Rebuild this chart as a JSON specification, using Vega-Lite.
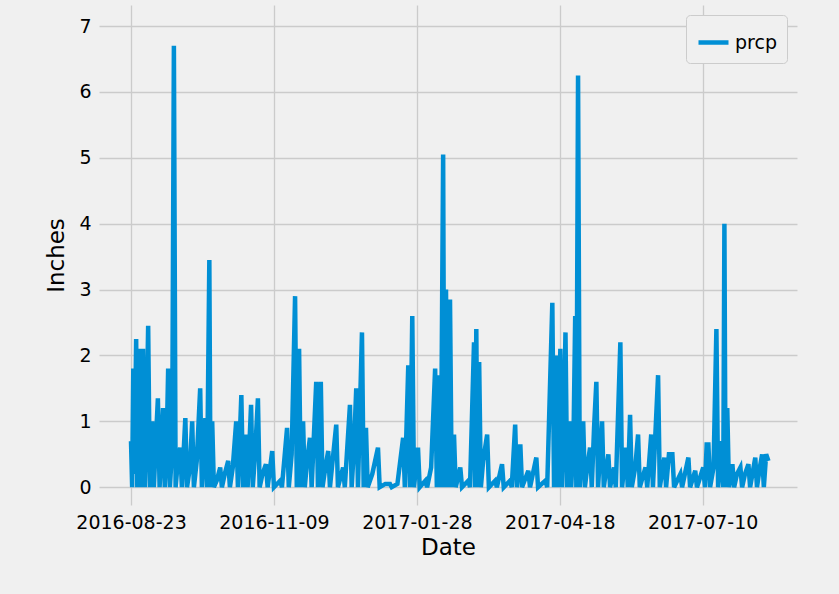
{
  "$schema": "https://vega.github.io/schema/vega-lite/v6.json",
  "width": 698,
  "height": 500,
  "autosize": "none",
  "padding": {"left": 99, "top": 5, "right": 42, "bottom": 89},
  "background": "#f0f0f0",
  "config": {
    "font": "DejaVu Sans",
    "view": {"stroke": null, "fill": "#f0f0f0"},
    "axis": {"gridColor": "#cbcbcb", "gridWidth": 1.3, "domain": false, "ticks": false, "labelFontSize": 19, "labelColor": "#000", "titleFontSize": 23, "titleFontWeight": "normal", "titleColor": "#000", "labelPadding": 8}
  },
  "data": {"values": [
    {"i":0,"p":0.7},{"i":2,"p":0},{"i":4,"p":1.8},{"i":6,"p":0.2},{"i":9,"p":2.25},{"i":11,"p":0},{"i":13,"p":1.4},{"i":16,"p":2.1},{"i":18,"p":0},{"i":21,"p":2.1},{"i":24,"p":0},{"i":27,"p":0.9},{"i":30,"p":2.45},{"i":33,"p":0},{"i":37,"p":1.0},{"i":40,"p":0},{"i":44,"p":0.8},{"i":47,"p":1.35},{"i":50,"p":0},{"i":53,"p":0.6},{"i":56,"p":1.2},{"i":59,"p":0},{"i":62,"p":0.5},{"i":65,"p":1.8},{"i":68,"p":0},{"i":72,"p":0.6},{"i":75,"p":6.7},{"i":78,"p":0},{"i":82,"p":0.4},{"i":86,"p":0.6},{"i":89,"p":0},{"i":95,"p":1.05},{"i":98,"p":0},{"i":103,"p":0.3},{"i":107,"p":1.0},{"i":110,"p":0},{"i":115,"p":0.4},{"i":121,"p":1.5},{"i":124,"p":0},{"i":130,"p":1.05},{"i":133,"p":0},{"i":137,"p":3.45},{"i":139,"p":0},{"i":142,"p":1.0},{"i":145,"p":0},{"i":150,"p":0.1},{"i":156,"p":0.3},{"i":159,"p":0},{"i":164,"p":0.2},{"i":170,"p":0.4},{"i":173,"p":0},{"i":178,"p":0.3},{"i":184,"p":1.0},{"i":187,"p":0},{"i":193,"p":1.4},{"i":196,"p":0},{"i":201,"p":0.8},{"i":204,"p":0},{"i":210,"p":1.25},{"i":213,"p":0},{"i":217,"p":0.5},{"i":222,"p":1.35},{"i":225,"p":0},{"i":230,"p":0.2},{"i":236,"p":0.35},{"i":239,"p":0},{"i":247,"p":0.55},{"i":250,"p":0},{"i":261,"p":0.1},{"i":264,"p":0},{"i":273,"p":0.9},{"i":276,"p":0},{"i":281,"p":0.5},{"i":287,"p":2.9},{"i":290,"p":0},{"i":294,"p":2.1},{"i":297,"p":0},{"i":301,"p":1.0},{"i":304,"p":0},{"i":308,"p":0.4},{"i":313,"p":0.75},{"i":316,"p":0},{"i":324,"p":1.6},{"i":327,"p":0},{"i":332,"p":1.6},{"i":335,"p":0},{"i":340,"p":0.3},{"i":345,"p":0.55},{"i":348,"p":0},{"i":359,"p":0.95},{"i":362,"p":0},{"i":371,"p":0.3},{"i":374,"p":0},{"i":383,"p":1.25},{"i":386,"p":0},{"i":390,"p":0.6},{"i":394,"p":1.5},{"i":397,"p":0},{"i":404,"p":2.35},{"i":407,"p":0},{"i":411,"p":0.9},{"i":414,"p":0},{"i":422,"p":0.2},{"i":432,"p":0.6},{"i":435,"p":0},{"i":445,"p":0.05},{"i":453,"p":0.05},{"i":456,"p":0},{"i":466,"p":0.05},{"i":476,"p":0.75},{"i":479,"p":0},{"i":485,"p":1.85},{"i":488,"p":0},{"i":492,"p":2.6},{"i":495,"p":0},{"i":502,"p":0.6},{"i":505,"p":0},{"i":515,"p":0.1},{"i":518,"p":0},{"i":525,"p":0.3},{"i":532,"p":1.8},{"i":535,"p":0},{"i":539,"p":1.7},{"i":542,"p":0},{"i":546,"p":5.05},{"i":548,"p":0},{"i":551,"p":3.0},{"i":554,"p":0},{"i":558,"p":2.85},{"i":561,"p":0},{"i":565,"p":0.8},{"i":568,"p":0},{"i":576,"p":0.3},{"i":579,"p":0},{"i":590,"p":0.1},{"i":593,"p":0},{"i":600,"p":2.2},{"i":602,"p":0},{"i":604,"p":2.4},{"i":606,"p":0},{"i":609,"p":1.9},{"i":612,"p":0},{"i":616,"p":0.4},{"i":623,"p":0.8},{"i":626,"p":0},{"i":637,"p":0.1},{"i":640,"p":0},{"i":649,"p":0.35},{"i":652,"p":0},{"i":663,"p":0.1},{"i":666,"p":0},{"i":672,"p":0.95},{"i":675,"p":0},{"i":681,"p":0.65},{"i":684,"p":0},{"i":695,"p":0.25},{"i":698,"p":0},{"i":709,"p":0.45},{"i":712,"p":0},{"i":725,"p":0.1},{"i":728,"p":0},{"i":737,"p":2.8},{"i":740,"p":0},{"i":744,"p":2.0},{"i":747,"p":0},{"i":751,"p":2.1},{"i":754,"p":0},{"i":757,"p":0.9},{"i":760,"p":2.35},{"i":763,"p":0},{"i":767,"p":1.0},{"i":770,"p":0},{"i":774,"p":0.7},{"i":777,"p":2.6},{"i":779,"p":0},{"i":782,"p":6.25},{"i":785,"p":0},{"i":791,"p":1.0},{"i":794,"p":0},{"i":798,"p":0.3},{"i":803,"p":0.6},{"i":806,"p":0},{"i":810,"p":0.9},{"i":814,"p":1.6},{"i":817,"p":0},{"i":824,"p":1.0},{"i":827,"p":0},{"i":835,"p":0.5},{"i":838,"p":0},{"i":845,"p":0.3},{"i":848,"p":0},{"i":856,"p":2.2},{"i":859,"p":0},{"i":866,"p":0.6},{"i":869,"p":0},{"i":873,"p":1.1},{"i":876,"p":0},{"i":882,"p":0.3},{"i":887,"p":0.8},{"i":890,"p":0},{"i":900,"p":0.3},{"i":903,"p":0},{"i":910,"p":0.8},{"i":913,"p":0},{"i":922,"p":1.7},{"i":925,"p":0},{"i":933,"p":0.45},{"i":936,"p":0},{"i":941,"p":0.5},{"i":947,"p":0.5},{"i":950,"p":0},{"i":961,"p":0.2},{"i":964,"p":0},{"i":975,"p":0.45},{"i":978,"p":0},{"i":987,"p":0.25},{"i":990,"p":0},{"i":1001,"p":0.3},{"i":1004,"p":0},{"i":1007,"p":0.65},{"i":1010,"p":0.65},{"i":1013,"p":0},{"i":1019,"p":0.3},{"i":1024,"p":2.4},{"i":1027,"p":0},{"i":1033,"p":0.7},{"i":1036,"p":0},{"i":1038,"p":4.0},{"i":1040,"p":0},{"i":1043,"p":1.2},{"i":1046,"p":0},{"i":1052,"p":0.35},{"i":1055,"p":0},{"i":1060,"p":0.2},{"i":1066,"p":0.3},{"i":1069,"p":0},{"i":1074,"p":0.2},{"i":1080,"p":0.35},{"i":1083,"p":0},{"i":1087,"p":0.2},{"i":1092,"p":0.45},{"i":1095,"p":0},{"i":1100,"p":0.3},{"i":1104,"p":0.5},{"i":1107,"p":0},{"i":1111,"p":0.5},{"i":1115,"p":0.4}
  ]},
  "mark": {"type": "line", "strokeWidth": 4.5, "strokeJoin": "miter", "clip": true},
  "encoding": {
    "x": {
      "field": "i", "type": "quantitative", "title": "Date",
      "scale": {"domain": [-56, 1165], "nice": false, "zero": false},
      "axis": {"values": [0, 250, 500, 750, 1000], "labelExpr": "datum.value == 0 ? '2016-08-23' : datum.value == 250 ? '2016-11-09' : datum.value == 500 ? '2017-01-28' : datum.value == 750 ? '2017-04-18' : '2017-07-10'", "labelFlush": false, "labelOverlap": false, "titlePadding": 4}
    },
    "y": {
      "field": "p", "type": "quantitative", "title": "Inches",
      "scale": {"domain": [-0.27, 7.32], "nice": false, "zero": false},
      "axis": {"values": [0, 1, 2, 3, 4, 5, 6, 7], "titlePadding": 10}
    },
    "color": {
      "datum": "prcp", "type": "nominal",
      "scale": {"range": ["#008fd5"]},
      "legend": {"title": null, "orient": "top-right", "symbolType": "stroke", "symbolStrokeWidth": 4.5, "symbolSize": 900, "labelFontSize": 19, "fillColor": "#f0f0f0", "strokeColor": "#cccccc", "padding": 10, "cornerRadius": 4, "offset": 10}
    }
  }
}
